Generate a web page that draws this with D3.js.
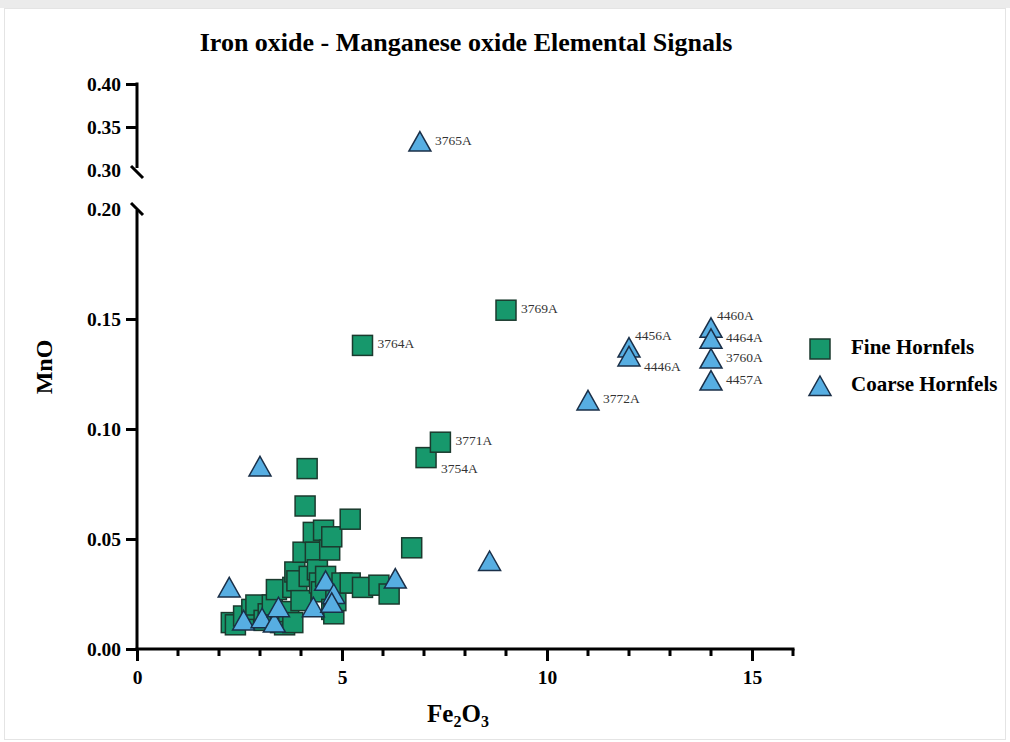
<!DOCTYPE html>
<html>
<head>
<meta charset="utf-8">
<script src="https://cdn.jsdelivr.net/npm/d3@7"></script>
<style>
  html, body { margin: 0; padding: 0; background: #fff; }
  svg { display: block; }
</style>
</head>
<body>
<svg id="chart" width="1010" height="742"></svg>
<script>
// ---------------- DATA ----------------
const title = "Iron oxide - Manganese oxide Elemental Signals";
const seriesNames = ["Fine Hornfels", "Coarse Hornfels"];

// Fine Hornfels: [Fe2O3, MnO]
const fineFe = [2.3, 2.4, 2.6, 2.8, 2.9, 3.1, 3.2, 3.3, 3.4, 3.5, 3.6, 3.7, 3.8, 3.8, 3.85, 3.9, 4.0, 4.05, 4.1, 4.15, 4.2, 4.3, 4.35, 4.4, 4.45, 4.5, 4.55, 4.6, 4.7, 4.75, 4.75, 4.8, 4.85, 5.0, 5.2, 5.2, 5.5, 5.9, 6.15, 6.7, 5.5, 7.05, 7.4, 9.0];
const fineMn = [0.012, 0.011, 0.015, 0.018, 0.020, 0.013, 0.016, 0.020, 0.027, 0.012, 0.011, 0.017, 0.012, 0.028, 0.035, 0.031, 0.022, 0.044, 0.065, 0.082, 0.033, 0.053, 0.044, 0.036, 0.030, 0.026, 0.054, 0.033, 0.045, 0.051, 0.018, 0.016, 0.022, 0.030, 0.059, 0.030, 0.028, 0.029, 0.025, 0.046, 0.138, 0.087, 0.094, 0.154];
const fineLabel = [null, null, null, null, null, null, null, null, null, null, null, null, null, null, null, null, null, null, null, null, null, null, null, null, null, null, null, null, null, null, null, null, null, null, null, null, null, null, null, null, "3764A", "3754A", "3771A", "3769A"];

// Coarse Hornfels: [Fe2O3, MnO]
const coarseFe = [2.25, 2.6, 3.05, 3.35, 3.45, 4.3, 4.6, 4.8, 4.75, 3.0, 6.3, 8.6, 6.9, 11.0, 12.0, 12.0, 14.0, 14.0, 14.0, 14.0];
const coarseMn = [0.028, 0.013, 0.014, 0.012, 0.019, 0.019, 0.031, 0.025, 0.021, 0.083, 0.032, 0.040, 0.333, 0.113, 0.137, 0.133, 0.146, 0.141, 0.132, 0.122];
const coarseLabel = [null, null, null, null, null, null, null, null, null, null, null, null, "3765A", "3772A", "4456A", "4446A", "4460A", "4464A", "3760A", "4457A"];

// label placement relative to marker: r = right, ur = upper right, dr = lower right
const labelPlacement = { "3764A": "r", "3754A": "dr", "3771A": "r", "3769A": "r", "3765A": "r", "3772A": "r", "4456A": "ur", "4446A": "dr", "4460A": "ur", "4464A": "r", "3760A": "r", "4457A": "r" };

const xTicks = [0, 5, 10, 15];
const xMinorTicks = [1, 2, 3, 4, 6, 7, 8, 9, 11, 12, 13, 14, 16];
const yLowTicks = [0.00, 0.05, 0.10, 0.15, 0.20];
const yHighTicks = [0.30, 0.35, 0.40];

// ---------------- DRAW ----------------
const svg = d3.select("#chart");
const serif = "'Liberation Serif', 'Times New Roman', serif";
const ink = "#000";

// frame
svg.append("rect").attr("x", 0).attr("y", 0).attr("width", 1010).attr("height", 8).attr("fill", "#ebebeb");
svg.append("rect").attr("x", 4.5).attr("y", 8.5).attr("width", 1001).attr("height", 731).attr("fill", "none").attr("stroke", "#e4e4e4").attr("stroke-width", 1);

const x = d3.scaleLinear().domain([0, 16]).range([137, 793]);
const yLow = d3.scaleLinear().domain([0, 0.2]).range([649, 209]);
const yHigh = d3.scaleLinear().domain([0.3, 0.4]).range([170, 84]);
const yPos = v => v >= 0.25 ? yHigh(v) : yLow(v);

// title
svg.append("text").attr("x", 466).attr("y", 51).attr("text-anchor", "middle")
  .attr("font-family", serif).attr("font-weight", "bold").attr("font-size", 26)
  .attr("fill", ink).text(title);

// x axis
const xAxisG = svg.append("g").attr("transform", "translate(0,649)");
xAxisG.call(d3.axisBottom(x).tickValues(xTicks).tickFormat(d3.format("d")).tickSize(12).tickSizeOuter(0).tickPadding(9));
const xMinorG = svg.append("g").attr("transform", "translate(0,649)");
xMinorG.selectAll("line").data(xMinorTicks).join("line")
  .attr("x1", d => x(d)).attr("x2", d => x(d)).attr("y1", 0).attr("y2", 7)
  .attr("stroke", ink).attr("stroke-width", 3);

// y axes
const fmt2 = d3.format(".2f");
const yLowG = svg.append("g").attr("transform", "translate(137,0)");
yLowG.call(d3.axisLeft(yLow).tickValues(yLowTicks).tickFormat(fmt2).tickSize(11).tickSizeOuter(0).tickPadding(5));
const yHighG = svg.append("g").attr("transform", "translate(137,0)");
yHighG.call(d3.axisLeft(yHigh).tickValues(yHighTicks).tickFormat(fmt2).tickSize(11).tickSizeOuter(0).tickPadding(5));

// remove tick marks at the break
yLowG.selectAll(".tick").filter(d => d === 0.20).select("line").remove();
yHighG.selectAll(".tick").filter(d => d === 0.30).select("line").remove();
// shorten domains at the break
yLowG.select(".domain").attr("d", `M0,${yLow(0) + 1.5}V${yLow(0.2) + 1}`);
yHighG.select(".domain").attr("d", `M0,${yHigh(0.4) - 1.5}V${yHigh(0.3) - 2}`);

[xAxisG, yLowG, yHighG].forEach(g => {
  g.selectAll(".domain").attr("stroke", ink).attr("stroke-width", 3);
  g.selectAll(".tick line").attr("stroke", ink).attr("stroke-width", 3);
  g.selectAll(".tick text").attr("font-family", serif).attr("font-weight", "bold")
    .attr("font-size", 19.5).attr("fill", ink);
});
xAxisG.select(".domain").attr("d", `M${x(0) - 1.5},0H${x(16) + 1.5}`);

// break slashes
const breakG = svg.append("g").attr("stroke", ink).attr("stroke-width", 3).attr("fill", "none");
[yLow(0.2) + 0, yHigh(0.3) + 2].forEach(cy => {
  breakG.append("line").attr("x1", 131).attr("y1", cy - 6).attr("x2", 143).attr("y2", cy + 6);
});

// axis titles
svg.append("text").attr("transform", `translate(52,367) rotate(-90)`).attr("text-anchor", "middle")
  .attr("font-family", serif).attr("font-weight", "bold").attr("font-size", 24).attr("fill", ink).text("MnO");

const xt = svg.append("text").attr("x", 458).attr("y", 722).attr("text-anchor", "middle")
  .attr("font-family", serif).attr("font-weight", "bold").attr("font-size", 25).attr("fill", ink);
xt.append("tspan").text("Fe");
xt.append("tspan").attr("font-size", 16).attr("dy", 5).text("2");
xt.append("tspan").attr("dy", -5).text("O");
xt.append("tspan").attr("font-size", 16).attr("dy", 5).text("3");

// markers
const sqFill = "#17986c", sqStroke = "#1b3a2e";
const trFill = "#57aee2", trStroke = "#1a2f48";
const S = 20;
const triPath = "M0,-10L11,9.5L-11,9.5Z";

const fine = fineFe.map((v, i) => ({ x: v, y: fineMn[i], label: fineLabel[i] }));
const coarse = coarseFe.map((v, i) => ({ x: v, y: coarseMn[i], label: coarseLabel[i] }));

svg.append("g").selectAll("rect").data(fine).join("rect")
  .attr("x", d => x(d.x) - S / 2).attr("y", d => yPos(d.y) - S / 2)
  .attr("width", S).attr("height", S)
  .attr("fill", sqFill).attr("stroke", sqStroke).attr("stroke-width", 1.5);

svg.append("g").selectAll("path").data(coarse).join("path")
  .attr("transform", d => `translate(${x(d.x)},${yPos(d.y)})`)
  .attr("d", triPath)
  .attr("fill", trFill).attr("stroke", trStroke).attr("stroke-width", 1.5).attr("stroke-linejoin", "miter");

// labels
const offsets = { r: [15, 0], ur: [6, -11], dr: [15, 12] };
const labelled = fine.concat(coarse).filter(d => d.label);
svg.append("g").selectAll("text").data(labelled).join("text")
  .attr("x", d => x(d.x) + offsets[labelPlacement[d.label]][0])
  .attr("y", d => yPos(d.y) + offsets[labelPlacement[d.label]][1])
  .attr("dominant-baseline", "middle")
  .attr("font-family", serif).attr("font-size", 13.5).attr("fill", "#333")
  .text(d => d.label);

// legend
const legend = svg.append("g");
legend.append("rect").attr("x", 810).attr("y", 339).attr("width", S).attr("height", S)
  .attr("fill", sqFill).attr("stroke", sqStroke).attr("stroke-width", 1.5);
legend.append("path").attr("transform", "translate(820,386)").attr("d", triPath)
  .attr("fill", trFill).attr("stroke", trStroke).attr("stroke-width", 1.5);
legend.selectAll("text").data(seriesNames).join("text")
  .attr("x", 851).attr("y", (d, i) => 349 + i * 37)
  .attr("dominant-baseline", "middle")
  .attr("font-family", serif).attr("font-weight", "bold").attr("font-size", 21).attr("fill", ink)
  .text(d => d);
</script>
</body>
</html>
